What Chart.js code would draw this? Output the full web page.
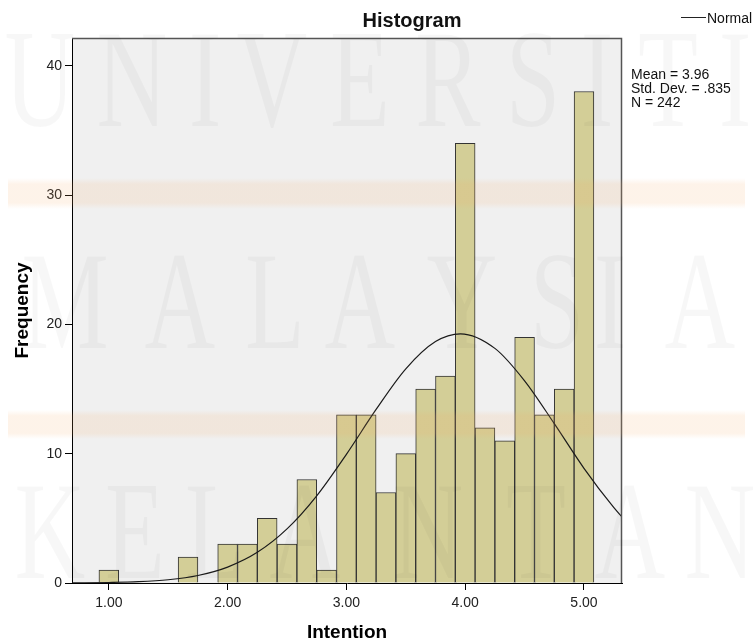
<!DOCTYPE html>
<html>
<head>
<meta charset="utf-8">
<script src="https://cdn.jsdelivr.net/npm/chart.js@4"></script>
<style>
  html, body { margin: 0; padding: 0; background: #ffffff; }
  #c { display: block; }
</style>
</head>
<body>
<canvas id="c" width="755" height="643"></canvas>
<script>
// ---- data ----
const binCenters = [1.0000, 1.1667, 1.3333, 1.5000, 1.6667, 1.8333, 2.0000, 2.1667, 2.3333, 2.5000,
                    2.6667, 2.8333, 3.0000, 3.1667, 3.3333, 3.5000, 3.6667, 3.8333, 4.0000, 4.1667,
                    4.3333, 4.5000, 4.6667, 4.8333, 5.0000];
const frequencies = [1, 0, 0, 0, 2, 0, 3, 3, 5, 3,
                     8, 1, 13, 13, 7, 10, 15, 16, 34, 12,
                     11, 19, 13, 15, 38];
// normal curve
const curveX = [0.69, 1.00, 1.25, 1.50, 1.75, 2.00, 2.25, 2.50, 2.75, 3.00, 3.25, 3.50, 3.75, 3.96, 4.25, 4.50, 4.75, 5.00, 5.25, 5.32];
const curveY = [0.01, 0.04, 0.10, 0.25, 0.58, 1.23, 2.37, 4.18, 6.74, 9.95, 13.42, 16.56, 18.67, 19.27, 18.14, 15.63, 12.32, 8.87, 5.84, 5.11];
const xTickValues = [1, 2, 3, 4, 5];
const yTickValues = [0, 10, 20, 30, 40];
const chartTitle = 'Histogram';
const xTitle = 'Intention';
const yTitle = 'Frequency';
const legendLabel = 'Normal';
const statsLines = ['Mean = 3.96', 'Std. Dev. = .835', 'N = 242'];
const watermarkRows = ['UNIVERSITI', 'MALAYSIA', 'KELANTAN'];

const FONT = "Arial, 'Liberation Sans', Helvetica, sans-serif";

const decor = {
  id: 'decor',
  beforeDraw(chart) {
    const {ctx, chartArea: a} = chart;
    ctx.save();
    ctx.fillStyle = '#ffffff';
    ctx.fillRect(0, 0, chart.width, chart.height);
    ctx.fillStyle = '#f0f0f0';
    ctx.fillRect(a.left, a.top, a.right - a.left, a.bottom - a.top);
    ctx.restore();
  },
  afterDraw(chart) {
    const {ctx, chartArea: a} = chart;
    ctx.save();
    // frame top/right
    ctx.strokeStyle = '#555555';
    ctx.lineWidth = 1.5;
    ctx.beginPath();
    ctx.moveTo(a.left, a.top + 0.5);
    ctx.lineTo(a.right - 0.5, a.top + 0.5);
    ctx.lineTo(a.right - 0.5, a.bottom);
    ctx.stroke();

    // title
    ctx.fillStyle = '#111111';
    ctx.font = 'bold 20px ' + FONT;
    ctx.textAlign = 'center';
    ctx.textBaseline = 'alphabetic';
    ctx.fillText(chartTitle, 412, 27);

    // legend
    ctx.strokeStyle = '#222222';
    ctx.lineWidth = 1;
    ctx.beginPath();
    ctx.moveTo(681, 17.5);
    ctx.lineTo(706, 17.5);
    ctx.stroke();
    ctx.font = '14px ' + FONT;
    ctx.textAlign = 'left';
    ctx.fillText(legendLabel, 707, 23);

    // stats
    statsLines.forEach((t, i) => ctx.fillText(t, 631, 79 + i * 14));

    // watermark bands
    const band = (y0, y1) => {
      const g = ctx.createLinearGradient(0, y0, 0, y1);
      g.addColorStop(0, 'rgba(245,170,100,0)');
      g.addColorStop(0.2, 'rgba(245,170,100,0.14)');
      g.addColorStop(0.8, 'rgba(245,170,100,0.14)');
      g.addColorStop(1, 'rgba(245,170,100,0)');
      ctx.fillStyle = g;
      ctx.fillRect(8, y0, 737, y1 - y0);
    };
    band(178, 209);
    band(410, 439);

    // watermark letters
    ctx.fillStyle = 'rgba(0,0,0,0.032)';
    ctx.font = "140px 'Liberation Serif', 'Times New Roman', serif";
    ctx.textAlign = 'center';
    const rows = [
      {y: 126, xs: [40, 132, 205, 272, 360, 448, 533, 597, 668, 735]},
      {y: 348, xs: [65, 180, 275, 360, 462, 557, 610, 700]},
      {y: 578, xs: [50, 135, 215, 305, 428, 536, 630, 720]}
    ];
    rows.forEach((r, ri) => {
      const word = watermarkRows[ri];
      for (let i = 0; i < word.length; i++) {
        ctx.save();
        ctx.translate(r.xs[i], r.y);
        ctx.scale(0.7, 1);
        ctx.fillText(word[i], 0, 0);
        ctx.restore();
      }
    });
    ctx.restore();
  }
};

new Chart(document.getElementById('c'), {
  type: 'bar',
  data: {
    datasets: [
      {
        type: 'line',
        label: legendLabel,
        data: curveX.map((x, i) => ({x: x, y: curveY[i]})),
        borderColor: '#1a1a1a',
        borderWidth: 1.2,
        pointRadius: 0,
        fill: false,
        cubicInterpolationMode: 'monotone',
        order: 0
      },
      {
        type: 'bar',
        label: xTitle,
        data: binCenters.map((x, i) => ({x: x, y: frequencies[i]})),
        backgroundColor: '#d3ce97',
        borderColor: '#333333',
        borderWidth: 1,
        barPercentage: 1,
        categoryPercentage: 1,
        order: 1
      }
    ]
  },
  options: {
    responsive: false,
    animation: false,
    layout: {padding: {left: 0, top: 38, right: 133, bottom: 0}},
    plugins: {
      legend: {display: false},
      title: {display: false},
      tooltip: {enabled: false}
    },
    scales: {
      x: {
        type: 'linear',
        min: 0.69,
        max: 5.32,
        offset: false,
        grid: {display: true, offset: false, drawOnChartArea: false, drawTicks: true, tickLength: 7, color: '#000000'},
        border: {display: true, color: '#000000', width: 1},
        ticks: {
          color: '#222222',
          font: {size: 14, family: FONT},
          padding: 5,
          maxRotation: 0,
          autoSkip: false,
          callback: v => Number(v).toFixed(2)
        },
        afterBuildTicks: s => { s.ticks = xTickValues.map(v => ({value: v})); },
        afterFit: s => { s.height = 60; },
        title: {display: true, text: xTitle, color: '#000000', font: {size: 19, weight: 'bold', family: FONT}, padding: {top: 0, bottom: -1}}
      },
      y: {
        type: 'linear',
        min: 0,
        max: 42.14,
        grid: {display: true, offset: false, drawOnChartArea: false, drawTicks: true, tickLength: 7, color: '#000000'},
        border: {display: true, color: '#000000', width: 1},
        ticks: {
          color: '#222222',
          font: {size: 14, family: FONT},
          padding: 3,
          autoSkip: false,
          callback: v => String(v)
        },
        afterBuildTicks: s => { s.ticks = yTickValues.map(v => ({value: v})); },
        afterFit: s => { s.width = 72; },
        title: {display: true, text: yTitle, color: '#000000', font: {size: 19, weight: 'bold', family: FONT}, padding: {top: 11, bottom: 0}}
      }
    }
  },
  plugins: [decor]
});
</script>
</body>
</html>
